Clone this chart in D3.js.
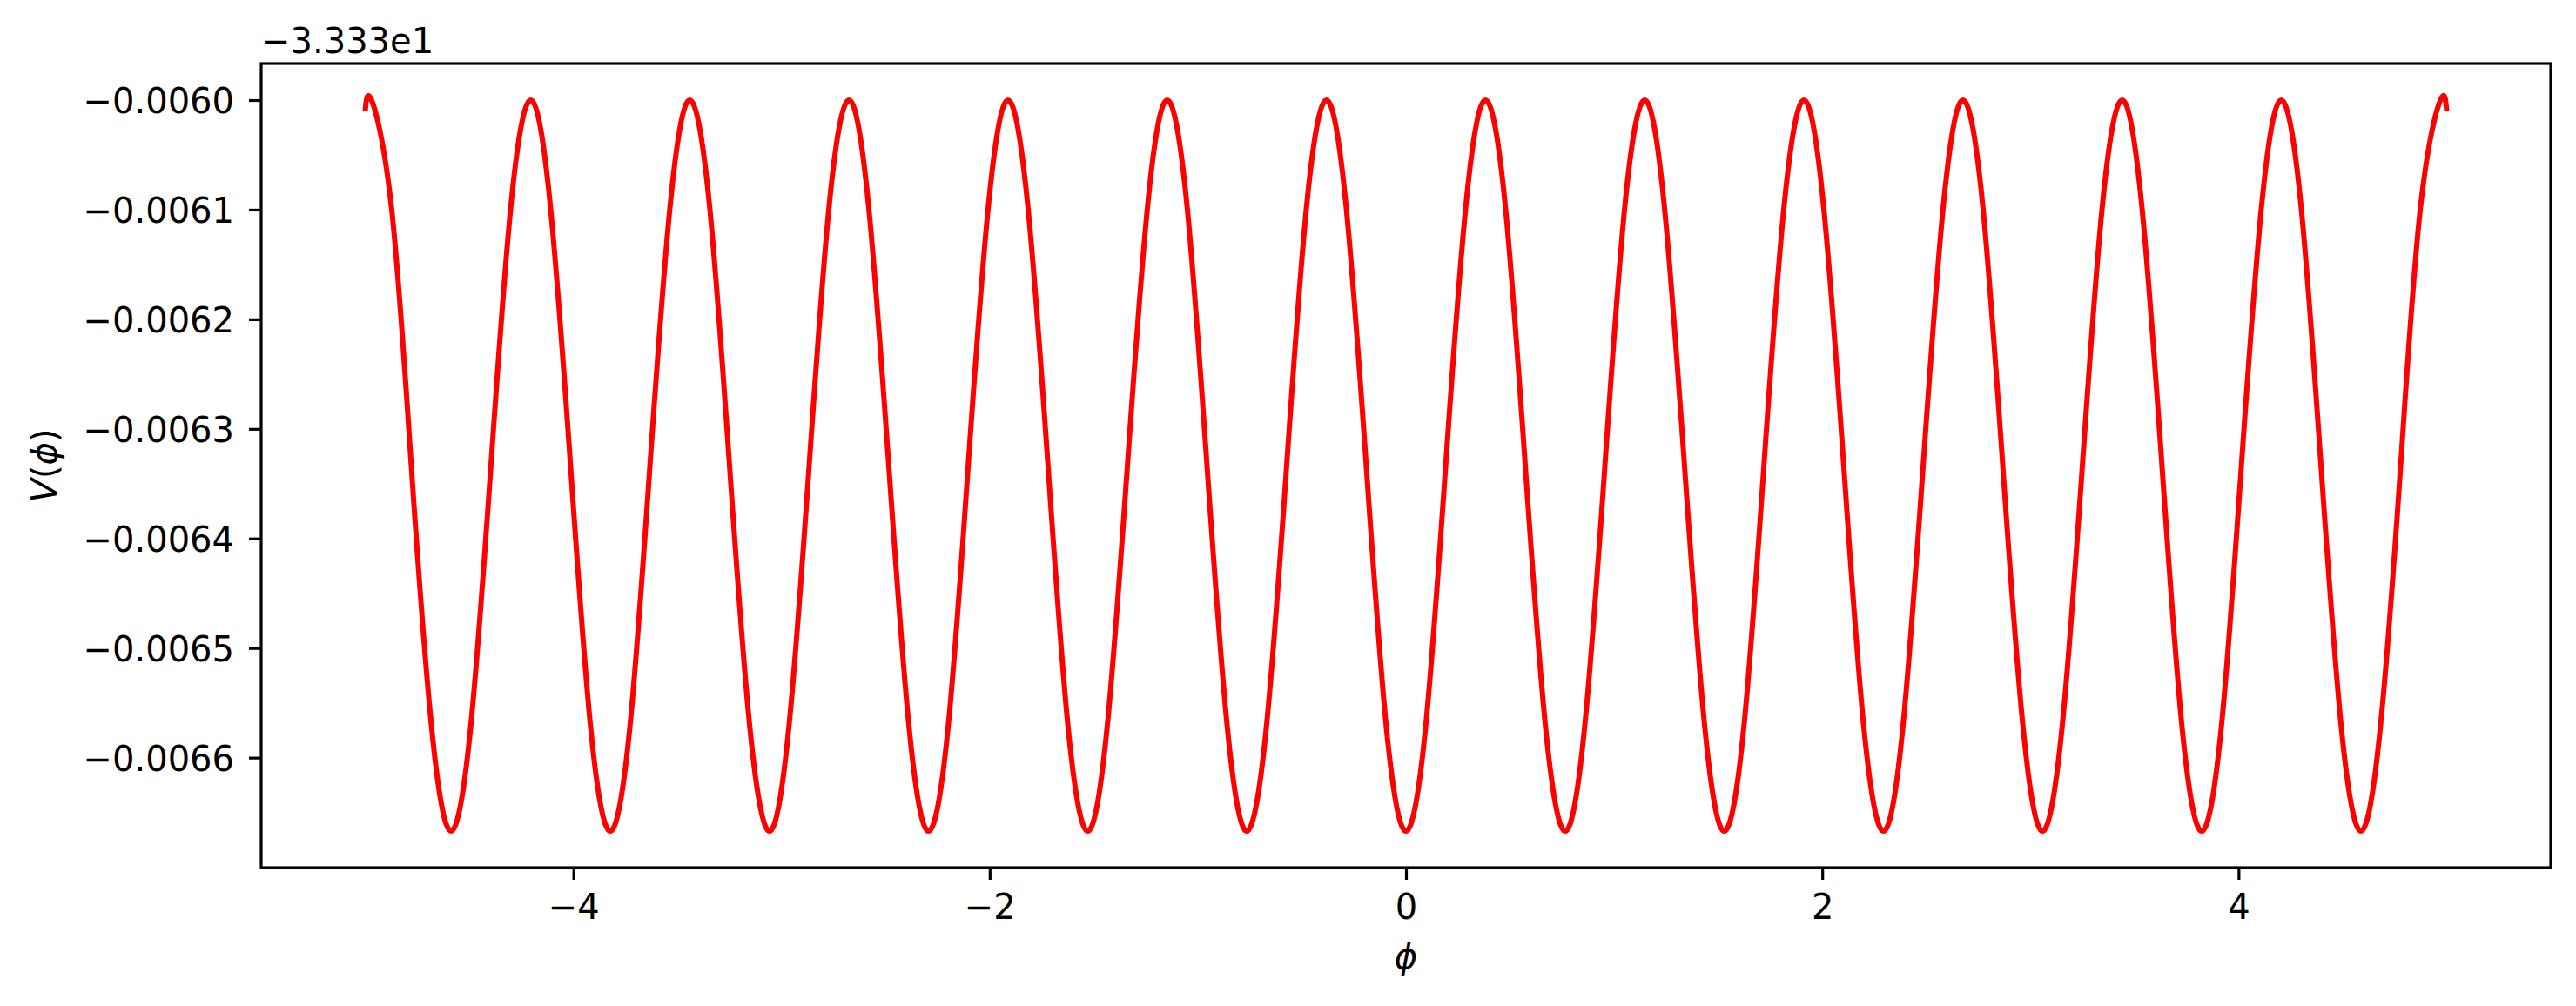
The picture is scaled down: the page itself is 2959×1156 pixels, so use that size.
<!DOCTYPE html>
<html>
<head>
<meta charset="utf-8">
<script src="https://cdn.jsdelivr.net/npm/d3@7"></script>
<style>
  html, body { margin: 0; padding: 0; background: #fff; }
  svg { display: block; }
  text { font-family: "DejaVu Sans", sans-serif; fill: #000; }
</style>
</head>
<body>
<svg id="chart" width="2959" height="1156"></svg>
<script>
// ---- data ----
const offsetLabel = "\u22123.333e1";   // axis offset: values shown are V + 33.33
const phi = [
  -5.000,
  -4.970, -4.874, -4.779, -4.683, -4.588, -4.492, -4.396, -4.301,
  -4.205, -4.110, -4.014, -3.919, -3.823, -3.727, -3.632, -3.536,
  -3.441, -3.345, -3.250, -3.154, -3.058, -2.963, -2.867, -2.772,
  -2.676, -2.581, -2.485, -2.389, -2.294, -2.198, -2.103, -2.007,
  -1.912, -1.816, -1.720, -1.625, -1.529, -1.434, -1.338, -1.242,
  -1.147, -1.051, -0.956, -0.860, -0.765, -0.669, -0.573, -0.478,
  -0.382, -0.287, -0.191, -0.096,  0.000,  0.096,  0.191,  0.287,
   0.382,  0.478,  0.573,  0.669,  0.765,  0.860,  0.956,  1.051,
   1.147,  1.242,  1.338,  1.434,  1.529,  1.625,  1.720,  1.816,
   1.912,  2.007,  2.103,  2.198,  2.294,  2.389,  2.485,  2.581,
   2.676,  2.772,  2.867,  2.963,  3.058,  3.154,  3.250,  3.345,
   3.441,  3.536,  3.632,  3.727,  3.823,  3.919,  4.014,  4.110,
   4.205,  4.301,  4.396,  4.492,  4.588,  4.683,  4.779,  4.874,
   4.970,
   5.000
];
const vShown = [
  -0.006010,
  -0.006000, -0.006098, -0.006333, -0.006569, -0.006667, -0.006569, -0.006333, -0.006098,
  -0.006000, -0.006098, -0.006333, -0.006569, -0.006667, -0.006569, -0.006333, -0.006098,
  -0.006000, -0.006098, -0.006333, -0.006569, -0.006667, -0.006569, -0.006333, -0.006098,
  -0.006000, -0.006098, -0.006333, -0.006569, -0.006667, -0.006569, -0.006333, -0.006098,
  -0.006000, -0.006098, -0.006333, -0.006569, -0.006667, -0.006569, -0.006333, -0.006098,
  -0.006000, -0.006098, -0.006333, -0.006569, -0.006667, -0.006569, -0.006333, -0.006098,
  -0.006000, -0.006098, -0.006333, -0.006569, -0.006667, -0.006569, -0.006333, -0.006098,
  -0.006000, -0.006098, -0.006333, -0.006569, -0.006667, -0.006569, -0.006333, -0.006098,
  -0.006000, -0.006098, -0.006333, -0.006569, -0.006667, -0.006569, -0.006333, -0.006098,
  -0.006000, -0.006098, -0.006333, -0.006569, -0.006667, -0.006569, -0.006333, -0.006098,
  -0.006000, -0.006098, -0.006333, -0.006569, -0.006667, -0.006569, -0.006333, -0.006098,
  -0.006000, -0.006098, -0.006333, -0.006569, -0.006667, -0.006569, -0.006333, -0.006098,
  -0.006000, -0.006098, -0.006333, -0.006569, -0.006667, -0.006569, -0.006333, -0.006098,
  -0.006000,
  -0.006010
];
const xTicks = [-4, -2, 0, 2, 4];
const yTicks = [-0.0060, -0.0061, -0.0062, -0.0063, -0.0064, -0.0065, -0.0066];
const xLabel = "\u03D5";
const lineColor = "#ff0000";

// ---- layout ----
const svg = d3.select("#chart");
const box = { left: 300, right: 2930, top: 73, bottom: 997 };
const FS = 40;

function padded(ext) { const m = (ext[1] - ext[0]) * 0.05; return [ext[0] - m, ext[1] + m]; }
const x = d3.scaleLinear().domain(padded(d3.extent(phi))).range([box.left, box.right]);
const y = d3.scaleLinear().domain(padded(d3.extent(vShown))).range([box.bottom, box.top]);

const data = phi.map((p, i) => ({ p, v: vShown[i] }));
const minus = s => s.replace("-", "\u2212");

// curve
svg.append("path")
  .datum(data)
  .attr("fill", "none")
  .attr("stroke", lineColor)
  .attr("stroke-width", 6)
  .attr("stroke-linejoin", "round")
  .attr("stroke-linecap", "butt")
  .attr("d", d3.line().x(d => x(d.p)).y(d => y(d.v)).curve(d3.curveNatural));

// x axis
const xa = svg.append("g")
  .attr("transform", `translate(0,${box.bottom})`)
  .call(d3.axisBottom(x).tickValues(xTicks).tickSize(14).tickFormat(d => minus(d3.format("d")(d))));
xa.select(".domain").remove();
xa.selectAll(".tick line").attr("stroke", "#000").attr("stroke-width", 3.2);
xa.selectAll(".tick text").attr("y", 59).attr("dy", null).attr("font-size", FS)
  .attr("font-family", "DejaVu Sans").attr("fill", "#000");

// y axis
const ya = svg.append("g")
  .attr("transform", `translate(${box.left},0)`)
  .call(d3.axisLeft(y).tickValues(yTicks).tickSize(14).tickFormat(d => minus(d3.format(".4f")(d))));
ya.select(".domain").remove();
ya.selectAll(".tick line").attr("stroke", "#000").attr("stroke-width", 3.2);
ya.selectAll(".tick text").attr("x", -31).attr("dy", "0.36em").attr("font-size", FS)
  .attr("font-family", "DejaVu Sans").attr("fill", "#000");

// frame
svg.append("rect")
  .attr("x", box.left).attr("y", box.top)
  .attr("width", box.right - box.left).attr("height", box.bottom - box.top)
  .attr("fill", "none").attr("stroke", "#000").attr("stroke-width", 3.2);

// offset text
svg.append("text")
  .attr("x", box.left).attr("y", 61)
  .attr("font-size", FS)
  .text(offsetLabel);

// x label
svg.append("text")
  .attr("x", (box.left + box.right) / 2).attr("y", 1113)
  .attr("text-anchor", "middle")
  .attr("font-size", FS).attr("font-style", "italic")
  .text(xLabel);

// y label
const yl = svg.append("text")
  .attr("transform", `translate(51,${(box.top + box.bottom) / 2}) rotate(-90)`)
  .attr("text-anchor", "middle")
  .attr("dominant-baseline", "central")
  .attr("font-size", FS);
yl.append("tspan").attr("font-style", "italic").text("V");
yl.append("tspan").text("(");
yl.append("tspan").attr("font-style", "italic").text("\u03D5");
yl.append("tspan").text(")");
</script>
</body>
</html>
